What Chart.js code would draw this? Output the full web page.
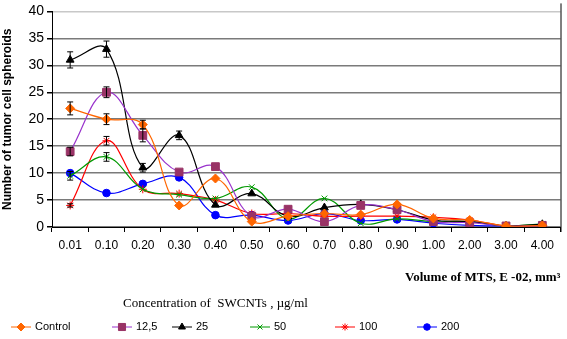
<!DOCTYPE html>
<html>
<head>
<meta charset="utf-8">
<script src="https://cdn.jsdelivr.net/npm/chart.js@4.4.1/dist/chart.umd.min.js"></script>
<style>
  html, body { margin: 0; padding: 0; background: #fff; }
  #wrap { width: 567px; height: 339px; position: relative; }
</style>
</head>
<body>
<div id="wrap"><canvas id="chart" width="567" height="339"></canvas></div>
<script>
// Volume categories (x axis)
const VOLUMES = ["0.01","0.10","0.20","0.30","0.40","0.50","0.60","0.70","0.80","0.90","1.00","2.00","3.00","4.00"];
const Y_TICKS = [0, 5, 10, 15, 20, 25, 30, 35, 40];

// Number of spheroids per concentration
const control = [22, 20, 19, 4, 9, 1, 2, 2.5, 2.3, 4.2, 1.6, 1.3, 0.2, 0.3];
const c12_5   = [14, 25, 17, 10.2, 11.2, 2, 3.3, 1, 4, 3.2, 1, 0.8, 0.2, 0.3];
const c25     = [31, 33, 11, 17, 4.1, 6.2, 2, 3.6, 4.2, 3.2, 1.3, 1, 0.2, 0.5];
const c50     = [9.5, 13, 7, 6, 5.3, 7.4, 1.5, 5.3, 0.7, 1.5, 1, 1, 0.2, 0.6];
const c100    = [4, 16, 7, 6.2, 5, 2.5, 2.5, 2, 2, 2, 1.8, 1.3, 0.2, 0.3];
const c200    = [10, 6.3, 8, 9.2, 2.2, 2.2, 1.2, 2.5, 1.2, 1.4, 0.7, 0.3, 0.2, 0.3];

// error bars (± value), 0 = none
const errControl = [1.2, 1, 0.8, 0, 0, 0, 0, 0, 0, 0, 0, 0, 0, 0];
const err12_5    = [0.8, 1, 1.2, 0, 0, 0, 0, 0, 0, 0, 0, 0, 0, 0];
const err25      = [1.5, 1.5, 0.8, 0.8, 0, 0, 0, 0, 0, 0, 0, 0, 0, 0];
const err50      = [0.8, 0.8, 0, 0, 0, 0, 0, 0, 0, 0, 0, 0, 0, 0];
const err100     = [0.3, 0.8, 0, 0, 0, 0, 0, 0, 0, 0, 0, 0, 0, 0];
const err200     = [0, 0, 0, 0, 0, 0, 0, 0, 0, 0, 0, 0, 0, 0];

const SERIES = [
  { label: "Control", data: control, err: errControl, line: "#ff6600", fill: "#ff6600", style: "rectRot", r: 4.5 },
  { label: "12,5",    data: c12_5,   err: err12_5,    line: "#9933cc", fill: "#993366", style: "rect",    r: 5.5 },
  { label: "25",      data: c25,     err: err25,      line: "#000000", fill: "#000000", style: "triangle",r: 4.5 },
  { label: "50",      data: c50,     err: err50,      line: "#009900", fill: "#009900", style: "crossRot",r: 4 },
  { label: "100",     data: c100,    err: err100,     line: "#ff0000", fill: "#ff0000", style: "star",    r: 4 },
  { label: "200",     data: c200,    err: err200,     line: "#0000ff", fill: "#0000ff", style: "circle",  r: 3.8 }
];

const LEGEND_X = [11, 112, 172, 250, 335, 417];

// error bars + right frame + legend (drawn on canvas)
const extrasPlugin = {
  id: "extras",
  afterDatasetsDraw(chart) {
    const ctx = chart.ctx;
    const ys = chart.scales.y;
    ctx.save();
    ctx.strokeStyle = "#000";
    ctx.lineWidth = 1;
    SERIES.forEach((s, i) => {
      const meta = chart.getDatasetMeta(i);
      s.err.forEach((e, j) => {
        if (!e) return;
        const x = meta.data[j].x;
        const y1 = ys.getPixelForValue(s.data[j] + e);
        const y2 = ys.getPixelForValue(s.data[j] - e);
        ctx.beginPath();
        ctx.moveTo(x, y1); ctx.lineTo(x, y2);
        ctx.moveTo(x - 3, y1); ctx.lineTo(x + 3, y1);
        ctx.moveTo(x - 3, y2); ctx.lineTo(x + 3, y2);
        ctx.stroke();
      });
    });
    ctx.restore();
  },
  afterDraw(chart) {
    const ctx = chart.ctx;
    const a = chart.chartArea;
    ctx.save();
    // right frame
    ctx.strokeStyle = "#000";
    ctx.lineWidth = 1;
    ctx.beginPath();
    ctx.moveTo(a.right + 0.5, a.top - 8);
    ctx.lineTo(a.right + 0.5, a.bottom + 5);
    ctx.stroke();

    // legend title
    ctx.fillStyle = "#000";
    ctx.font = "13px 'Liberation Serif'";
    ctx.textBaseline = "middle";
    ctx.fillText("Concentration of  SWCNTs , \u00b5g/ml", 123, 304);

    // legend items
    ctx.font = "11px 'Liberation Sans'";
    const ly = 327;
    SERIES.forEach((s, i) => {
      const x0 = LEGEND_X[i];
      ctx.strokeStyle = s.line;
      ctx.lineWidth = 1;
      ctx.beginPath();
      ctx.moveTo(x0, ly); ctx.lineTo(x0 + 20, ly);
      ctx.stroke();
      ctx.fillStyle = s.fill;
      ctx.strokeStyle = s.fill;
      Chart.helpers.drawPoint(ctx, { pointStyle: s.style, radius: s.r - 0.5, borderWidth: 1, rotation: 0 }, x0 + 10, ly);
      ctx.fillStyle = "#000";
      ctx.fillText(s.label, x0 + 24, ly);
    });
    ctx.restore();
  }
};

new Chart(document.getElementById("chart"), {
  type: "line",
  data: {
    labels: VOLUMES,
    datasets: SERIES.map(s => ({
      label: s.label,
      data: s.data,
      borderColor: s.line,
      backgroundColor: s.fill,
      pointBorderColor: s.fill,
      pointBackgroundColor: s.fill,
      pointStyle: s.style,
      pointRadius: s.r,
      pointBorderWidth: 1,
      borderWidth: 1.2,
      tension: 0.4,
      fill: false
    }))
  },
  options: {
    responsive: false,
    animation: false,
    layout: { padding: { top: 8, right: 3, left: 0, bottom: 50 } },
    plugins: {
      legend: { display: false },
      tooltip: { enabled: false }
    },
    scales: {
      x: {
        offset: true,
        grid: { offset: true, drawOnChartArea: false, drawTicks: true, tickLength: 5, tickColor: "#000" },
        border: { color: "#000", width: 1 },
        ticks: { color: "#000", font: { family: "Liberation Sans", size: 12 }, padding: 6, maxRotation: 0, autoSkip: false },
        title: {
          display: true, align: "end",
          text: "Volume of MTS, E -02, mm\u00b3",
          color: "#000",
          font: { family: "Liberation Serif", size: 13, weight: "bold" },
          padding: { top: 10, bottom: 4 }
        },
        afterFit(scale) { scale.height = 62; }
      },
      y: {
        min: 0, max: 40,
        afterBuildTicks(scale) { scale.ticks = Y_TICKS.map(v => ({ value: v })); },
        grid: {
          color: c => c.tick && c.tick.value === 40 ? "#c8c8c8" : "#7a7a7a",
          lineWidth: 1.5,
          drawTicks: true, tickLength: 5, tickColor: "#000"
        },
        border: { color: "#000", width: 1 },
        ticks: { color: "#000", font: { family: "Liberation Sans", size: 14 }, padding: 3 },
        title: {
          display: true,
          text: "Number of tumor cell spheroids",
          color: "#000",
          font: { family: "Liberation Sans", size: 12, weight: "bold" },
          padding: { top: 0, bottom: 2 }
        },
        afterFit(scale) { scale.width = 52; }
      }
    }
  },
  plugins: [extrasPlugin]
});
</script>
</body>
</html>
